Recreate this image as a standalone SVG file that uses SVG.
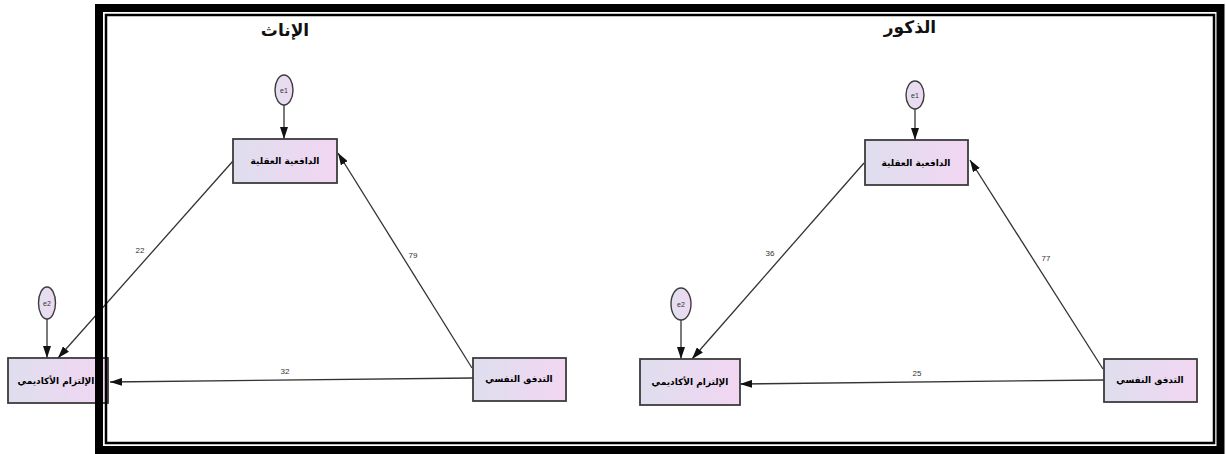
<svg xmlns="http://www.w3.org/2000/svg" width="1226" height="454" viewBox="0 0 1226 454">
  <defs>
    <linearGradient id="boxFill" x1="0" y1="0" x2="1" y2="0">
      <stop offset="0" stop-color="#dedeee"/>
      <stop offset="1" stop-color="#f2d6f2"/>
    </linearGradient>
    <linearGradient id="errFill" x1="0" y1="0" x2="1" y2="0">
      <stop offset="0" stop-color="#e2e0f0"/>
      <stop offset="1" stop-color="#eed8f0"/>
    </linearGradient>
    <marker id="arrow" viewBox="0 0 12 8" refX="12" refY="4" markerWidth="12" markerHeight="8" markerUnits="userSpaceOnUse" orient="auto">
      <path d="M0,0 L12,4 L0,8 Z" fill="#111"/>
    </marker>
    <style>
      .box { fill: url(#boxFill); stroke: #3c3c3c; stroke-width: 1.8; }
      .err { fill: url(#errFill); stroke: #3c3c3c; stroke-width: 1.4; }
      .lbl { font-family: "DejaVu Sans", sans-serif; font-weight: bold; font-size: 9px; fill: #000; text-anchor: middle; }
      .elbl { font-family: "Liberation Sans", sans-serif; font-size: 7px; fill: #333; text-anchor: middle; }
      .title { font-family: "DejaVu Sans", sans-serif; font-weight: bold; font-size: 17px; fill: #111; text-anchor: middle; }
      .coef { font-family: "Liberation Sans", sans-serif; font-size: 8px; fill: #333; text-anchor: middle; }
      .edge { stroke: #333; stroke-width: 1.3; fill: none; marker-end: url(#arrow); }
    </style>
  </defs>

  <rect x="0" y="0" width="1226" height="454" fill="#ffffff"/>

  <!-- group titles -->
  <text class="title" x="285" y="36" direction="rtl">الإناث</text>
  <text class="title" x="910" y="33" direction="rtl">الذكور</text>

  <!-- path connectors -->
  <g id="connectors">
    <!-- left model -->
    <line class="edge" x1="284" y1="105" x2="284" y2="139"/>
    <line class="edge" x1="47" y1="319" x2="47" y2="358"/>
    <line class="edge" x1="233" y1="161" x2="58" y2="358"/>
    <line class="edge" x1="473" y1="378" x2="110" y2="382"/>
    <line class="edge" x1="472" y1="368" x2="338" y2="153"/>
    <text class="coef" x="140" y="253">22</text>
    <text class="coef" x="413" y="258">79</text>
    <text class="coef" x="285" y="374">32</text>
    <!-- right model -->
    <line class="edge" x1="915" y1="109" x2="915" y2="140"/>
    <line class="edge" x1="681" y1="320" x2="681" y2="359"/>
    <line class="edge" x1="864" y1="163" x2="692" y2="359"/>
    <line class="edge" x1="1104" y1="380" x2="740" y2="384"/>
    <line class="edge" x1="1103" y1="369" x2="970" y2="160"/>
    <text class="coef" x="770" y="256">36</text>
    <text class="coef" x="1046" y="261">77</text>
    <text class="coef" x="917" y="376">25</text>
  </g>

  <!-- left model nodes -->
  <g id="f-e1">
    <ellipse class="err" cx="284" cy="90" rx="9" ry="15"/>
    <text class="elbl" x="284" y="92.5">e1</text>
  </g>
  <g id="f-motivation">
    <rect class="box" x="233" y="139" width="104" height="44"/>
    <text class="lbl" x="285" y="164" direction="rtl">الدافعية العقلية</text>
  </g>
  <g id="f-e2">
    <ellipse class="err" cx="47" cy="303" rx="8.5" ry="16"/>
    <text class="elbl" x="47" y="305.5">e2</text>
  </g>
  <g id="f-commitment">
    <rect class="box" x="8" y="358" width="100" height="45"/>
    <text class="lbl" x="56" y="384" direction="rtl">الإلتزام الأكاديمي</text>
  </g>
  <g id="f-flow">
    <rect class="box" x="473" y="358" width="93" height="43"/>
    <text class="lbl" x="519" y="382" direction="rtl">التدفق النفسي</text>
  </g>

  <!-- right model nodes -->
  <g id="m-e1">
    <ellipse class="err" cx="915" cy="95" rx="9" ry="14"/>
    <text class="elbl" x="915" y="97.5">e1</text>
  </g>
  <g id="m-motivation">
    <rect class="box" x="865" y="140" width="103" height="45"/>
    <text class="lbl" x="916" y="166" direction="rtl">الدافعية العقلية</text>
  </g>
  <g id="m-e2">
    <ellipse class="err" cx="681" cy="304" rx="10" ry="16"/>
    <text class="elbl" x="681" y="306.5">e2</text>
  </g>
  <g id="m-commitment">
    <rect class="box" x="640" y="359" width="100" height="46"/>
    <text class="lbl" x="690" y="385" direction="rtl">الإلتزام الأكاديمي</text>
  </g>
  <g id="m-flow">
    <rect class="box" x="1104" y="359" width="93" height="43"/>
    <text class="lbl" x="1150" y="383" direction="rtl">التدفق النفسي</text>
  </g>

  <!-- thick-thin page border -->
  <g id="frame" fill="none" stroke="#000">
    <rect x="99" y="8" width="1121.5" height="442" stroke-width="8"/>
    <rect x="106" y="15" width="1108" height="428" stroke-width="2.5"/>
  </g>
</svg>
